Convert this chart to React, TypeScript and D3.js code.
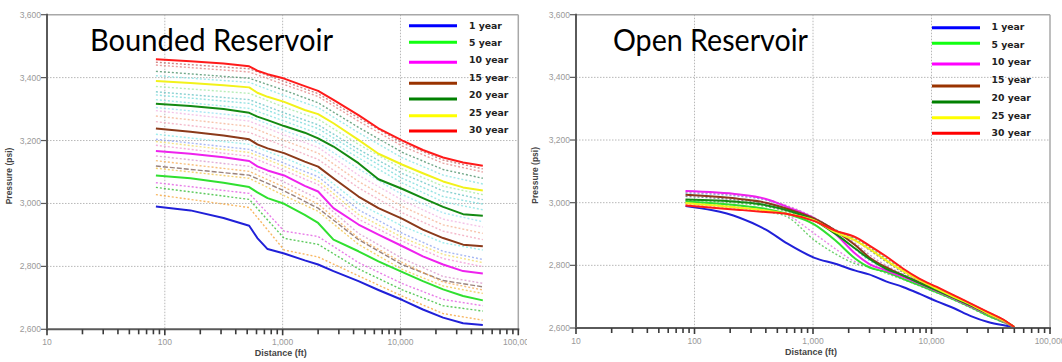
import React from "react";
import * as d3 from "d3";

// ---------- DATA ----------
const YEARS = ["1 year", "5 year", "10 year", "15 year", "20 year", "25 year", "30 year"];
const LEGEND_COLORS = ["#0000ff", "#11ff11", "#ff00ff", "#993300", "#008000", "#ffff00", "#ff0000"];
const LINE_COLORS = ["#2020d8", "#30e030", "#ee22ee", "#8b3a1a", "#138a13", "#f2f21a", "#ff1a1a"];

const X_TICKS = [10, 100, 1000, 10000, 100000];
const Y_TICKS = [2600, 2800, 3000, 3200, 3400, 3600];

// Bounded reservoir – solid yearly curves
const boundedX = [84, 165, 315, 520, 610, 745, 1030, 1540, 2000, 2700, 4400, 6500, 10400, 15500, 23000, 34000, 50000];
const bounded1 = [2990, 2978, 2954, 2929, 2890, 2855, 2841, 2819, 2806, 2785, 2753, 2725, 2693, 2663, 2637, 2619, 2614];
const bounded5 = [3089, 3080, 3066, 3052, 3035, 3017, 2999, 2964, 2938, 2885, 2848, 2816, 2782, 2753, 2727, 2706, 2692];
const bounded10 = [3167, 3158, 3147, 3135, 3118, 3105, 3089, 3056, 3038, 2985, 2933, 2901, 2864, 2832, 2806, 2785, 2777];
const bounded15 = [3238, 3228, 3216, 3204, 3188, 3175, 3160, 3133, 3117, 3080, 3022, 2985, 2951, 2917, 2890, 2869, 2864];
const bounded20 = [3317, 3310, 3300, 3288, 3276, 3265, 3246, 3225, 3207, 3181, 3128, 3077, 3046, 3017, 2989, 2966, 2961];
const bounded25 = [3389, 3383, 3376, 3369, 3352, 3339, 3323, 3297, 3284, 3255, 3202, 3158, 3123, 3096, 3070, 3051, 3041];
const bounded30 = [3458, 3452, 3445, 3436, 3422, 3411, 3397, 3373, 3358, 3329, 3281, 3239, 3200, 3170, 3146, 3130, 3120];

// Bounded reservoir – intermediate years (dotted)
const boundedDotX = [84, 520, 1030, 2000, 4400, 10400, 23000, 50000];
const boundedDot2 = [3028, 2987, 2852, 2830, 2770, 2705, 2650, 2629];
const boundedDot3 = [3051, 3013, 2889, 2870, 2792, 2725, 2675, 2658];
const boundedDot4 = [3066, 3032, 2912, 2895, 2812, 2745, 2695, 2675];
const boundedDot6 = [3112, 3080, 3025, 2975, 2870, 2790, 2738, 2714];
const boundedDot7 = [3119, 3090, 3040, 2985, 2885, 2805, 2755, 2735];
const boundedDot8 = [3136, 3102, 3052, 2998, 2890, 2812, 2750, 2725];
const boundedDot9 = [3151, 3118, 3068, 3015, 2905, 2825, 2768, 2746];
const boundedDot11 = [3185, 3150, 3105, 3060, 2950, 2880, 2825, 2799];
const boundedDot12 = [3197, 3162, 3118, 3072, 2965, 2892, 2838, 2812];
const boundedDot13 = [3204, 3172, 3128, 3085, 2980, 2905, 2848, 2822];
const boundedDot14 = [3220, 3188, 3145, 3100, 3000, 2928, 2875, 2852];
const boundedDot16 = [3260, 3226, 3182, 3140, 3050, 2970, 2912, 2885];
const boundedDot17 = [3278, 3245, 3200, 3160, 3070, 2990, 2932, 2905];
const boundedDot18 = [3295, 3262, 3218, 3178, 3090, 3010, 2950, 2925];
const boundedDot19 = [3305, 3276, 3232, 3193, 3110, 3028, 2970, 2942];
const boundedDot21 = [3330, 3302, 3262, 3222, 3145, 3065, 3005, 2980];
const boundedDot22 = [3345, 3318, 3276, 3238, 3160, 3080, 3022, 2998];
const boundedDot23 = [3355, 3330, 3288, 3250, 3172, 3095, 3040, 3012];
const boundedDot24 = [3372, 3350, 3306, 3268, 3188, 3110, 3055, 3028];
const boundedDot26 = [3406, 3385, 3343, 3305, 3225, 3145, 3090, 3062];
const boundedDot27 = [3420, 3398, 3360, 3320, 3242, 3162, 3108, 3080];
const boundedDot28 = [3440, 3418, 3378, 3340, 3262, 3182, 3128, 3100];
const boundedDot29 = [3449, 3428, 3388, 3349, 3272, 3192, 3138, 3110];

// Open reservoir – solid yearly curves
const openX = [84, 240, 400, 610, 1030, 1540, 2280, 2970, 4130, 5740, 7960, 11100, 15500, 21500, 30000, 41600, 50000];
const open1 = [2989, 2952, 2914, 2869, 2824, 2805, 2783, 2771, 2749, 2731, 2709, 2685, 2663, 2638, 2619, 2608, 2603];
const open5 = [3004, 2991, 2980, 2964, 2930, 2880, 2821, 2794, 2779, 2757, 2736, 2714, 2691, 2667, 2640, 2617, 2603];
const open10 = [3037, 3026, 3012, 2986, 2949, 2901, 2837, 2805, 2784, 2763, 2741, 2718, 2694, 2669, 2644, 2619, 2603];
const open15 = [3025, 3012, 3000, 2980, 2949, 2911, 2864, 2826, 2794, 2768, 2745, 2721, 2697, 2672, 2646, 2621, 2603];
const open20 = [3010, 3002, 2992, 2975, 2943, 2901, 2853, 2821, 2789, 2768, 2743, 2720, 2696, 2672, 2646, 2622, 2603];
const open25 = [2999, 2984, 2975, 2964, 2943, 2906, 2879, 2853, 2816, 2782, 2752, 2725, 2699, 2675, 2646, 2621, 2603];
const open30 = [2991, 2977, 2970, 2964, 2941, 2911, 2890, 2864, 2829, 2790, 2757, 2731, 2704, 2678, 2651, 2624, 2603];

// Open reservoir – intermediate years (dotted)
const openDot2 = [3000, 2985, 2972, 2954, 2880, 2837, 2805, 2794, 2775, 2755, 2734, 2712, 2689, 2664, 2638, 2616, 2603];
const openDot3 = [3005, 2990, 2978, 2960, 2901, 2853, 2811, 2796, 2778, 2757, 2736, 2714, 2691, 2666, 2640, 2617, 2603];
const openDot7 = [3030, 3020, 3008, 2984, 2948, 2905, 2850, 2816, 2790, 2766, 2743, 2720, 2696, 2671, 2645, 2620, 2603];
const openDot12 = [3033, 3022, 3010, 2990, 2952, 2912, 2870, 2835, 2800, 2772, 2748, 2724, 2699, 2674, 2648, 2622, 2603];
const openDot17 = [3020, 3008, 2998, 2980, 2950, 2914, 2880, 2850, 2812, 2778, 2750, 2727, 2701, 2676, 2650, 2623, 2603];
const openDot22 = [3008, 2998, 2988, 2972, 2946, 2912, 2885, 2858, 2822, 2786, 2755, 2729, 2703, 2677, 2650, 2624, 2603];
const openDot27 = [2995, 2981, 2973, 2965, 2942, 2910, 2888, 2862, 2826, 2788, 2756, 2730, 2704, 2678, 2651, 2624, 2603];

// ---------- STYLE / LAYOUT ----------
type Dotted = { values: number[]; color: string; dash?: string };

const boundedDotted: Dotted[] = [
  { values: boundedDot2, color: "#f5a030" },
  { values: boundedDot3, color: "#28b828" },
  { values: boundedDot4, color: "#e050e0" },
  { values: boundedDot6, color: "#f0c040" },
  { values: boundedDot7, color: "#7a5a50", dash: "5,2" },
  { values: boundedDot8, color: "#f4a850" },
  { values: boundedDot9, color: "#d890c8" },
  { values: boundedDot11, color: "#f090d0" },
  { values: boundedDot12, color: "#f0d860" },
  { values: boundedDot13, color: "#8aa0f0" },
  { values: boundedDot14, color: "#80e8e8" },
  { values: boundedDot16, color: "#f0a0b8" },
  { values: boundedDot17, color: "#f4b090" },
  { values: boundedDot18, color: "#f0b0e0" },
  { values: boundedDot19, color: "#90e0f0" },
  { values: boundedDot21, color: "#80e0e0" },
  { values: boundedDot22, color: "#70d8d8" },
  { values: boundedDot23, color: "#60c0c0" },
  { values: boundedDot24, color: "#a0e8a0" },
  { values: boundedDot26, color: "#80e0e0" },
  { values: boundedDot27, color: "#408a60" },
  { values: boundedDot28, color: "#e08080" },
  { values: boundedDot29, color: "#c06060" },
];

const openDotted: Dotted[] = [
  { values: openDot2, color: "#40c040" },
  { values: openDot3, color: "#e060e0" },
  { values: openDot7, color: "#60c8e0" },
  { values: openDot12, color: "#c070c0" },
  { values: openDot17, color: "#506070" },
  { values: openDot22, color: "#40a040" },
  { values: openDot27, color: "#f0a040" },
];

const H = 362;
const W = 1062;

type PanelProps = {
  id: string;
  clipX0: number;
  clipX1: number;
  xRange: [number, number];
  yRange: [number, number];
  title: string;
  titleX: number;
  titleLen: number;
  xs: number[];
  solid: number[][];
  dotXs: number[];
  dotted: Dotted[];
  legendLineX: [number, number];
  legendTextX: number;
  legendTextY: number[];
  legendLineY: number[];
  yTitleX: number;
  smooth: boolean;
};

function Panel(p: PanelProps) {
  const x = d3.scaleLog().domain([10, 100000]).range(p.xRange);
  const y = d3.scaleLinear().domain([2600, 3600]).range(p.yRange);
  const [x0, x1] = p.xRange;
  const [yb, yt] = p.yRange;
  const lineFor = (xs: number[]) =>
    d3
      .line<number>()
      .x((_, i) => x(xs[i]))
      .y((v) => y(v))
      .curve(p.smooth ? d3.curveMonotoneX : d3.curveLinear);

  const minor: number[] = [];
  for (let dec = 10; dec < 100000; dec *= 10) {
    for (let k = 2; k <= 9; k++) minor.push(dec * k);
  }
  const fmt = d3.format(",");

  return (
    <g clipPath={`url(#${p.id})`}>
      <defs>
        <clipPath id={p.id}>
          <rect x={p.clipX0} y={0} width={p.clipX1 - p.clipX0} height={H} />
        </clipPath>
      </defs>
      {/* grid */}
      {X_TICKS.slice(1, -1).map((t) => (
        <line key={"gx" + t} x1={x(t)} x2={x(t)} y1={yt} y2={yb} stroke="#b8b8b8" strokeWidth={1} strokeDasharray="1.5,1.5" />
      ))}
      {Y_TICKS.slice(1, -1).map((t) => (
        <line key={"gy" + t} x1={x0} x2={x1} y1={y(t)} y2={y(t)} stroke="#b8b8b8" strokeWidth={1} strokeDasharray="1.5,1.5" />
      ))}
      {/* frame top/right */}
      <line x1={x0} x2={x1} y1={yt} y2={yt} stroke="#a8a8a8" strokeWidth={1.5} />
      <line x1={x1} x2={x1} y1={yt} y2={yb} stroke="#a8a8a8" strokeWidth={1.5} />

      {/* dotted intermediate years */}
      {p.dotted.map((s, i) => (
        <path
          key={"d" + i}
          d={lineFor(p.dotXs)(s.values) || ""}
          fill="none"
          stroke={s.color}
          strokeWidth={1.4}
          strokeDasharray={s.dash || "2,2"}
          opacity={0.75}
        />
      ))}
      {/* solid years */}
      {p.solid.map((vals, i) => (
        <path
          key={"s" + i}
          d={lineFor(p.xs)(vals) || ""}
          fill="none"
          stroke={LINE_COLORS[i]}
          strokeWidth={2}
          strokeLinejoin="round"
        />
      ))}

      {/* axes */}
      <line x1={x0} x2={x0} y1={yt - 1} y2={yb + 1} stroke="#5a5a5a" strokeWidth={2} />
      <line x1={x0 - 1} x2={x1 + 1} y1={yb} y2={yb} stroke="#5a5a5a" strokeWidth={2} />
      {Y_TICKS.map((t) => (
        <g key={"yt" + t}>
          <line x1={x0 - 6} x2={x0} y1={y(t)} y2={y(t)} stroke="#5a5a5a" strokeWidth={1.2} />
          <text x={x0 - 6} y={y(t)} dy="0.35em" textAnchor="end" fontSize={8.5} fill="#999" fontFamily="Liberation Sans, Arial, sans-serif">
            {fmt(t)}
          </text>
        </g>
      ))}
      {minor.map((t) => (
        <line key={"mx" + t} x1={x(t)} x2={x(t)} y1={yb} y2={yb + 5} stroke="#3a3a3a" strokeWidth={1.6} />
      ))}
      {X_TICKS.map((t) => (
        <g key={"xt" + t}>
          <line x1={x(t)} x2={x(t)} y1={yb} y2={yb + 6} stroke="#3a3a3a" strokeWidth={1.6} />
          <text x={x(t)} y={yb + 16} textAnchor="middle" fontSize={8.5} fill="#999" fontFamily="Liberation Sans, Arial, sans-serif">
            {fmt(t)}
          </text>
        </g>
      ))}
      <text
        x={(x0 + x1) / 2 - 2}
        y={yb + 27}
        textAnchor="middle"
        fontSize={9}
        fontWeight="bold"
        fill="#444"
        fontFamily="Liberation Sans, Arial, sans-serif"
      >
        Distance (ft)
      </text>
      <text
        transform={`translate(${p.yTitleX},${(yt + yb) / 2 + 4}) rotate(-90)`}
        textAnchor="middle"
        fontSize={8.5}
        fontWeight="bold"
        fill="#444"
        fontFamily="Liberation Sans, Arial, sans-serif"
      >
        Pressure (psi)
      </text>

      {/* legend */}
      {YEARS.map((lbl, i) => (
        <g key={"lg" + i}>
          <line
            x1={p.legendLineX[0]}
            x2={p.legendLineX[1]}
            y1={p.legendLineY[i]}
            y2={p.legendLineY[i]}
            stroke={LEGEND_COLORS[i]}
            strokeWidth={3}
          />
          <text
            x={p.legendTextX}
            y={p.legendTextY[i]}
            dy="0.35em"
            fontSize={9.3}
            fontWeight="bold"
            fill="#222"
            fontFamily="DejaVu Sans, Verdana, sans-serif"
          >
            {lbl}
          </text>
        </g>
      ))}

      {/* big title */}
      <text
        x={p.titleX}
        y={50.5}
        fontSize={30}
        fill="#000"
        fontFamily="Lato, 'Open Sans', sans-serif"
        textLength={p.titleLen}
        lengthAdjust="spacingAndGlyphs"
      >
        {p.title}
      </text>
    </g>
  );
}

export default function App() {
  return (
    <svg
      width={W}
      height={H}
      viewBox={`0 0 ${W} ${H}`}
      style={{ position: "absolute", left: 0, top: 0, background: "#fff" }}
    >
      <rect x={0} y={0} width={W} height={H} fill="#fff" />
      <Panel
        id="clipL"
        clipX0={0}
        clipX1={527}
        xRange={[47, 518.3]}
        yRange={[329.3, 14.7]}
        title="Bounded Reservoir"
        titleX={90}
        titleLen={243}
        xs={boundedX}
        solid={[bounded1, bounded5, bounded10, bounded15, bounded20, bounded25, bounded30]}
        dotXs={boundedDotX}
        dotted={boundedDotted}
        legendLineX={[409, 457]}
        legendTextX={469}
        legendTextY={[25.7, 42.3, 60, 77.7, 94.7, 112.7, 130]}
        legendLineY={[25.7, 42.3, 62.3, 83.3, 99, 115.7, 131]}
        yTitleX={12}
        smooth={false}
      />
      <Panel
        id="clipR"
        clipX0={530}
        clipX1={1062}
        xRange={[576, 1050]}
        yRange={[328, 14.7]}
        title="Open Reservoir"
        titleX={613}
        titleLen={195}
        xs={openX}
        solid={[open1, open5, open10, open15, open20, open25, open30]}
        dotXs={openX}
        dotted={openDotted}
        legendLineX={[932, 980]}
        legendTextX={991.5}
        legendTextY={[26.7, 44.3, 61.7, 79.7, 97.7, 115.7, 132.7]}
        legendLineY={[27.7, 43.3, 64, 86, 102, 117.7, 133.3]}
        yTitleX={538}
        smooth={true}
      />
    </svg>
  );
}
